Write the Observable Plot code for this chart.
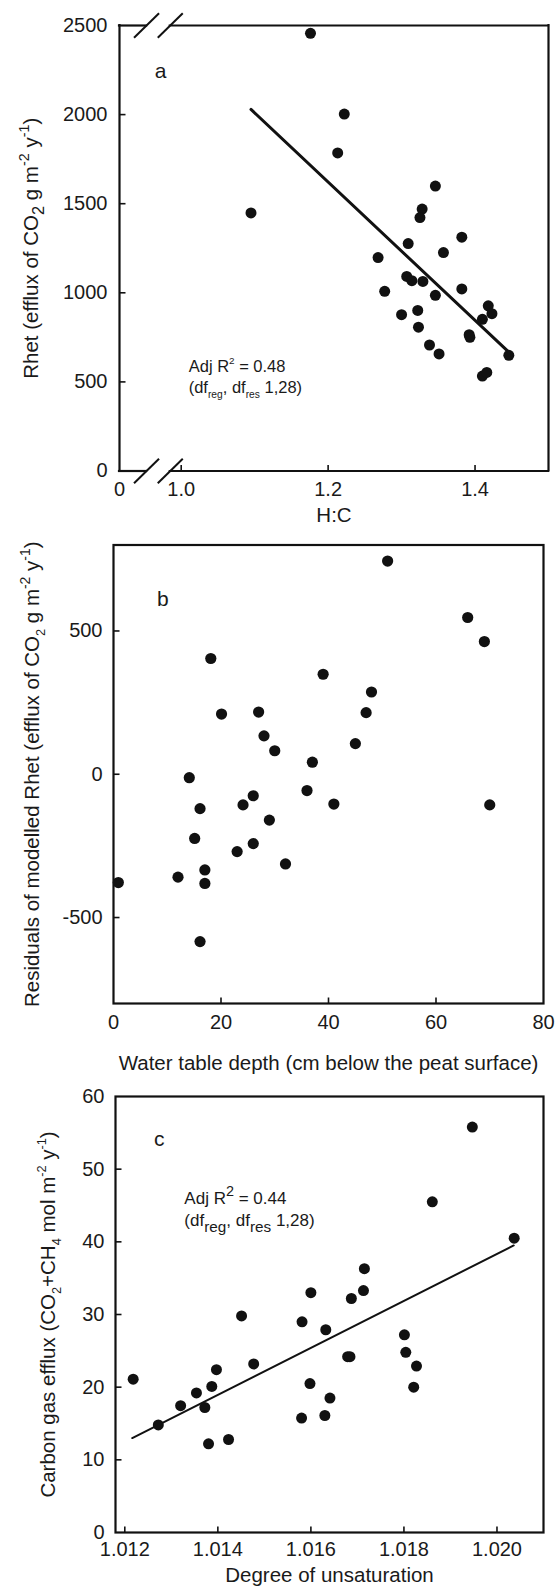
<!DOCTYPE html>
<html>
<head>
<meta charset="utf-8">
<script src="https://cdn.jsdelivr.net/npm/d3@7"></script>
<script src="https://cdn.jsdelivr.net/npm/@observablehq/plot@0.6"></script>
<style>
  body { margin: 0; background: #fff; }
  #chart { width: 559px; }
  #chart svg { display: block; }
</style>
</head>
<body>
<div id="chart"></div>
<script>
// ---------------- Panel a: Rhet vs H:C ----------------
const hcRatio = [1.176, 1.222, 1.213, 1.095, 1.346, 1.328, 1.325, 1.382, 1.309, 1.357,
                 1.268, 1.307, 1.314, 1.329, 1.382, 1.277, 1.346, 1.322, 1.300, 1.418,
                 1.423, 1.410, 1.323, 1.392, 1.393, 1.338, 1.351, 1.446, 1.410, 1.416];
const rhet = [2456, 2003, 1785, 1448, 1599, 1470, 1422, 1312, 1276, 1226,
              1198, 1092, 1068, 1064, 1022, 1008, 986, 901, 877, 927,
              883, 851, 807, 765, 750, 707, 657, 649, 533, 553];
const regAx = [1.095, 1.446];
const regAy = [2029, 667];
const aXDomain = [0.916, 1.5];
const aYDomain = [0, 2500];
const aXTicks = [0.916, 1.0, 1.2, 1.4];
const aXTickLabels = ["0", "1.0", "1.2", "1.4"];
const aYTicks = [0, 500, 1000, 1500, 2000, 2500];
const aYTickLabels = ["0", "500", "1000", "1500", "2000", "2500"];
const aBreakX = [0.9528, 0.9851];

// ---------------- Panel b: residuals vs water table ----------------
const wtDepth = [0.9, 12.0, 14.1, 16.1, 15.1, 17.0, 17.0, 16.1, 18.1, 20.1,
                 23.0, 24.1, 26.0, 26.0, 27.0, 28.0, 29.0, 30.0, 32.0, 36.0,
                 37.0, 39.0, 41.0, 45.0, 47.0, 48.0, 51.0, 65.9, 69.0, 70.0];
const residuals = [-378, -359, -12, -120, -224, -334, -381, -584, 404, 210,
                   -270, -107, -75, -242, 217, 134, -160, 82, -313, -57,
                   42, 349, -104, 107, 215, 287, 744, 547, 463, -107];
const bXDomain = [0, 80];
const bYDomain = [-800, 800];
const bXTicks = [0, 20, 40, 60, 80];
const bXTickLabels = ["0", "20", "40", "60", "80"];
const bYTicks = [-500, 0, 500];
const bYTickLabels = ["-500", "0", "500"];

// ---------------- Panel c: carbon gas efflux vs unsaturation ----------------
const unsat = [1.01218, 1.01272, 1.01320, 1.01354, 1.01372, 1.01387, 1.01380, 1.01397, 1.01423, 1.01451,
               1.01477, 1.01580, 1.01581, 1.01598, 1.01600, 1.01630, 1.01632, 1.01641, 1.01679, 1.01684,
               1.01687, 1.01713, 1.01715, 1.01801, 1.01804, 1.01821, 1.01827, 1.01861, 1.01947, 1.02037];
const carbonEfflux = [21.1, 14.8, 17.45, 19.2, 17.2, 20.1, 12.2, 22.4, 12.8, 29.8,
                      23.2, 15.75, 29.0, 20.5, 33.0, 16.1, 27.9, 18.5, 24.2, 24.2,
                      32.2, 33.3, 36.3, 27.2, 24.8, 20.0, 22.9, 45.5, 55.8, 40.5];
const regCx = [1.01216, 1.02036];
const regCy = [13.0, 39.5];
const cXDomain = [1.0118, 1.021];
const cYDomain = [0, 60];
const cXTicks = [1.012, 1.014, 1.016, 1.018, 1.020];
const cXTickLabels = ["1.012", "1.014", "1.016", "1.018", "1.020"];
const cYTicks = [0, 10, 20, 30, 40, 50, 60];
const cYTickLabels = ["0", "10", "20", "30", "40", "50", "60"];

// ---------------- shared styling ----------------
const FONT = "'Liberation Sans', Arial, sans-serif";
const INK = "#111";
const TXT = "#1a1a1a";
const TICK_FS = 20;
const TITLE_FS = 20.5;

const zip = (xs, ys) => xs.map((x, i) => ({x, y: ys[i]}));

// custom symbols
const slash = {draw(ctx) { ctx.moveTo(-12.5, 12.2); ctx.lineTo(12.5, -12.2); }};
const tickUp = {draw(ctx) { ctx.moveTo(0, 0); ctx.lineTo(0, -6); }};
const tickRight = {draw(ctx) { ctx.moveTo(0, 0); ctx.lineTo(6, 0); }};

function axisMarks({xTicks, xLabels, yTicks, yLabels, xInner, yInner, xDy, yDx}) {
  return [
    Plot.dot(xInner, {x: d => d, frameAnchor: "bottom", symbol: tickUp, stroke: INK, fill: "none", strokeWidth: 1.6}),
    Plot.dot(yInner, {y: d => d, frameAnchor: "left", symbol: tickRight, stroke: INK, fill: "none", strokeWidth: 1.6}),
    Plot.text(xTicks, {x: d => d, text: (d, i) => xLabels[i], frameAnchor: "bottom", textAnchor: "middle", dy: xDy, fontSize: TICK_FS, fill: TXT}),
    Plot.text(yTicks, {y: d => d, text: (d, i) => yLabels[i], frameAnchor: "left", dx: yDx, textAnchor: "end", fontSize: TICK_FS, fill: TXT})
  ];
}

// turn ^{..} / _{..} markup into super/subscript tspans
function richify(svg, rules) {
  d3.select(svg).selectAll("text").each(function() {
    const s = this.textContent;
    if (!/[_^]\{/.test(s)) return;
    const o = Object.assign({supScale: 0.68, supShift: 0.42, subScale: 0.68, subShift: 0.28},
      ...rules.filter(r => r.test.test(s)).map(r => r.opts));
    const cs = getComputedStyle(this);
    const fs = parseFloat(cs.fontSize) || 19;
    const anchor = cs.textAnchor;
    const parts = [];
    const re = /([_^])\{([^}]*)\}/g;
    let last = 0, m;
    while ((m = re.exec(s))) {
      if (m.index > last) parts.push({t: s.slice(last, m.index), k: ""});
      parts.push({t: m[2], k: m[1]});
      last = re.lastIndex;
    }
    if (last < s.length) parts.push({t: s.slice(last), k: ""});
    while (this.firstChild) this.removeChild(this.firstChild);
    let cur = 0;
    for (const p of parts) {
      const target = p.k === "^" ? -o.supShift * fs : p.k === "_" ? o.subShift * fs : 0;
      const ts = document.createElementNS("http://www.w3.org/2000/svg", "tspan");
      ts.setAttribute("dy", (target - cur).toFixed(2));
      cur = target;
      if (p.k) ts.setAttribute("font-size", ((p.k === "^" ? o.supScale : o.subScale) * fs).toFixed(2));
      ts.textContent = p.t;
      this.appendChild(ts);
    }
    const len = this.getComputedTextLength();
    const x0 = parseFloat(this.getAttribute("x")) || 0;
    this.setAttribute("text-anchor", "start");
    if (anchor === "middle") this.setAttribute("x", (x0 - len / 2).toFixed(2));
    else if (anchor === "end") this.setAttribute("x", (x0 - len).toFixed(2));
  });
}

const chart = document.getElementById("chart");
const baseStyle = {fontFamily: FONT, fontSize: "20px", color: INK, background: "transparent", overflow: "visible"};

// ---------- Panel a ----------
const dataA = zip(hcRatio, rhet);
const svgA = Plot.plot({
  width: 559, height: 530,
  marginTop: 25, marginBottom: 59.5, marginLeft: 119, marginRight: 11,
  style: baseStyle,
  x: {domain: aXDomain, axis: null},
  y: {domain: aYDomain, axis: null},
  marks: [
    Plot.ruleX([aXDomain[0], aXDomain[1]], {x: d => d, stroke: INK, strokeWidth: 2.2, strokeLinecap: "square"}),
    Plot.ruleY([aYDomain[0], aYDomain[1]], {y: d => d, x1: aXDomain[0], x2: aBreakX[0], stroke: INK, strokeWidth: 2.2, strokeLinecap: "square"}),
    Plot.ruleY([aYDomain[0], aYDomain[1]], {y: d => d, x1: aBreakX[1], x2: aXDomain[1], stroke: INK, strokeWidth: 2.2, strokeLinecap: "square"}),
    Plot.dot(aBreakX, {x: d => d, frameAnchor: "top", symbol: slash, stroke: INK, fill: "none", strokeWidth: 2}),
    Plot.dot(aBreakX, {x: d => d, frameAnchor: "bottom", symbol: slash, stroke: INK, fill: "none", strokeWidth: 2}),
    ...axisMarks({xTicks: aXTicks, xLabels: aXTickLabels, yTicks: aYTicks, yLabels: aYTickLabels,
                  xInner: [1.0, 1.2, 1.4], yInner: [500, 1000, 1500, 2000], xDy: 25, yDx: -12}),
    Plot.line(zip(regAx, regAy), {x: "x", y: "y", stroke: INK, strokeWidth: 3}),
    Plot.dot(dataA, {x: "x", y: "y", r: 5.5, fill: INK, stroke: "none"}),
    Plot.text(["a"], {x: 0.972, y: 2244, text: d => d, fontSize: 21, fill: TXT}),
    Plot.text(["Adj R^{2} = 0.48"], {x: 1.0102, y: 587, text: d => d, textAnchor: "start", fontSize: 16.5, fill: TXT}),
    Plot.text(["(df_{reg}, df_{res} 1,28)"], {x: 1.0102, y: 465, text: d => d, textAnchor: "start", fontSize: 16.5, fill: TXT}),
    Plot.text(["H:C"], {frameAnchor: "bottom", dy: 51, textAnchor: "middle", text: d => d, fontSize: TITLE_FS, fill: TXT}),
    Plot.text(["Rhet (efflux of CO_{2} g m^{-2} y^{-1})"], {frameAnchor: "left", dx: -88, rotate: -90, textAnchor: "middle", text: d => d, fontSize: TITLE_FS, fill: TXT})
  ]
});
chart.appendChild(svgA);
richify(svgA, [
  {test: /^Rhet/, opts: {subScale: 0.8, subShift: 0.3, supScale: 0.7, supShift: 0.45}},
  {test: /Adj|df/, opts: {supScale: 0.6, supShift: 0.45, subScale: 0.62, subShift: 0.3}}
]);

// ---------- Panel b ----------
const dataB = zip(wtDepth, residuals);
const svgB = Plot.plot({
  width: 559, height: 520,
  marginTop: 14.5, marginBottom: 47, marginLeft: 113, marginRight: 16,
  style: baseStyle,
  x: {domain: bXDomain, axis: null},
  y: {domain: bYDomain, axis: null},
  marks: [
    Plot.frame({stroke: INK, strokeWidth: 2.2}),
    ...axisMarks({xTicks: bXTicks, xLabels: bXTickLabels, yTicks: bYTicks, yLabels: bYTickLabels,
                  xInner: [20, 40, 60], yInner: [-500, 0, 500], xDy: 25, yDx: -11}),
    Plot.dot(dataB, {x: "x", y: "y", r: 5.6, fill: INK, stroke: "none"}),
    Plot.text(["b"], {x: 9.2, y: 609, text: d => d, fontSize: 21, fill: TXT}),
    Plot.text(["Water table depth (cm below the peat surface)"], {frameAnchor: "bottom", dy: 66, textAnchor: "middle", text: d => d, fontSize: TITLE_FS, fill: TXT}),
    Plot.text(["Residuals of modelled Rhet (efflux of CO_{2} g m^{-2} y^{-1})"], {frameAnchor: "left", dx: -81, rotate: -90, textAnchor: "middle", text: d => d, fontSize: TITLE_FS, fill: TXT})
  ]
});
chart.appendChild(svgB);
richify(svgB, [{test: /Residuals/, opts: {subScale: 0.62, subShift: 0.3, supScale: 0.68, supShift: 0.45}}]);

// ---------- Panel c ----------
const dataC = zip(unsat, carbonEfflux);
const svgC = Plot.plot({
  width: 559, height: 544,
  marginTop: 46, marginBottom: 62, marginLeft: 115, marginRight: 16,
  style: baseStyle,
  x: {domain: cXDomain, axis: null},
  y: {domain: cYDomain, axis: null},
  marks: [
    Plot.frame({stroke: INK, strokeWidth: 2.2}),
    ...axisMarks({xTicks: cXTicks, xLabels: cXTickLabels, yTicks: cYTicks, yLabels: cYTickLabels,
                  xInner: [1.012, 1.014, 1.016, 1.018, 1.020], yInner: [10, 20, 30, 40, 50], xDy: 23.5, yDx: -11}),
    Plot.line(zip(regCx, regCy), {x: "x", y: "y", stroke: INK, strokeWidth: 2}),
    Plot.dot(dataC, {x: "x", y: "y", r: 5.5, fill: INK, stroke: "none"}),
    Plot.text(["c"], {x: 1.01274, y: 54.05, text: d => d, fontSize: 21, fill: TXT}),
    Plot.text(["Adj R^{2} = 0.44"], {x: 1.01328, y: 45.9, text: d => d, textAnchor: "start", fontSize: 17, fill: TXT}),
    Plot.text(["(df_{reg}, df_{res} 1,28)"], {x: 1.01328, y: 42.9, text: d => d, textAnchor: "start", fontSize: 17, fill: TXT}),
    Plot.text(["Degree of unsaturation"], {frameAnchor: "bottom", dy: 49.5, textAnchor: "middle", text: d => d, fontSize: TITLE_FS, fill: TXT}),
    Plot.text(["Carbon gas efflux (CO_{2}+CH_{4} mol m^{-2} y^{-1})"], {frameAnchor: "left", dx: -67, rotate: -90, textAnchor: "middle", text: d => d, fontSize: TITLE_FS, fill: TXT})
  ]
});
chart.appendChild(svgC);
richify(svgC, [
  {test: /Carbon/, opts: {subScale: 0.62, subShift: 0.3, supScale: 0.62, supShift: 0.45}},
  {test: /Adj/, opts: {supScale: 0.85, supShift: 0.5}},
  {test: /df/, opts: {subScale: 0.9, subShift: 0.35}}
]);
</script>
</body>
</html>
